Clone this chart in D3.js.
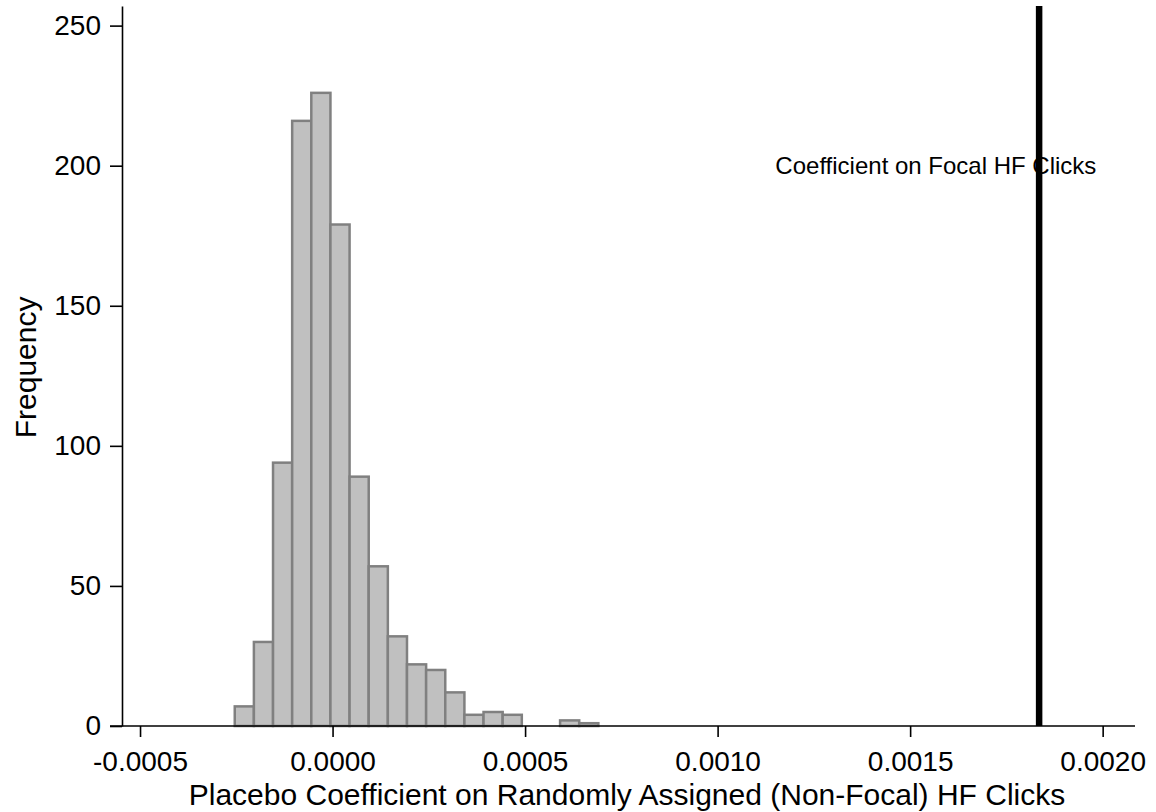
<!DOCTYPE html>
<html>
<head>
<meta charset="utf-8">
<script src="https://cdn.jsdelivr.net/npm/d3@7"></script>
<style>
  body { margin: 0; background: #fff; }
  text { font-family: "Liberation Sans", Arial, sans-serif; fill: #000; }
</style>
</head>
<body>
<div id="chart"></div>
<script>
// Histogram data (1000 placebo draws)
const binStart = -0.000254;
const binWidth = 0.0000497;
const counts = [7, 30, 94, 216, 226, 179, 89, 57, 32, 22, 20, 12, 4, 5, 4, 0, 0, 2, 1];
const xTicks = [-0.0005, 0.0000, 0.0005, 0.0010, 0.0015, 0.0020];
const yTicks = [0, 50, 100, 150, 200, 250];
const focalCoef = 0.001835;
const focalLabel = "Coefficient on Focal HF Clicks";

const width = 1156, height = 812;

const bins = counts.map((c, i) => ({
    x0: binStart + i * binWidth,
    x1: binStart + (i + 1) * binWidth,
    count: c
}));

const svg = d3.select("#chart")
    .append("svg")
    .attr("width", width)
    .attr("height", height);

// Scales
const x = d3.scaleLinear()
    .domain([-0.000578, 0.002084])
    .range([110, 1135]);

const y = d3.scaleLinear()
    .domain([0, 257])
    .range([726, 6]);

// Bars
svg.selectAll(".bar")
    .data(bins.filter(d => d.count > 0))
    .enter()
    .append("rect")
    .attr("class", "bar")
    .attr("x", d => x(d.x0))
    .attr("y", d => y(d.count))
    .attr("width", d => x(d.x1) - x(d.x0))
    .attr("height", d => y(0) - y(d.count))
    .style("fill", "#c0c0c0")
    .style("stroke", "#808080")
    .style("stroke-width", 2.5);

// Annotation text sits under the line
svg.append("text")
    .attr("x", x(0.00115))
    .attr("y", y(200))
    .attr("dy", "0.35em")
    .style("font-size", "24px")
    .text(focalLabel);

// Focal coefficient line
svg.append("line")
    .attr("x1", x(focalCoef))
    .attr("x2", x(focalCoef))
    .attr("y1", y(0))
    .attr("y2", y(257))
    .style("stroke", "#000")
    .style("stroke-width", 6.5);

// Axes
const xAxis = svg.append("g")
    .attr("transform", `translate(0, ${y(0)})`)
    .call(d3.axisBottom(x)
        .tickValues(xTicks)
        .tickSize(11)
        .tickSizeOuter(0)
        .tickPadding(14)
        .tickFormat(d3.format(".4f")));

const yAxis = svg.append("g")
    .attr("transform", `translate(${x.range()[0] + 12}, 0)`)
    .call(d3.axisLeft(y)
        .tickValues(yTicks)
        .tickSize(12)
        .tickSizeOuter(0)
        .tickPadding(9));

[xAxis, yAxis].forEach(g => {
    g.selectAll("path, line").style("stroke", "#000").style("stroke-width", 1.6);
    g.selectAll("text").style("font-size", "28px").attr("font-family", null);
});
xAxis.select(".domain").attr("d", `M${x.range()[0]},0H${x.range()[1]}`);
xAxis.selectAll(".tick text").text(d => d3.format(".4f")(d).replace("−", "-"));

// Axis titles
svg.append("text")
    .attr("x", 627)
    .attr("y", 805)
    .attr("text-anchor", "middle")
    .style("font-size", "30px")
    .text("Placebo Coefficient on Randomly Assigned (Non-Focal) HF Clicks");

svg.append("text")
    .attr("transform", `translate(36, ${y(128)}) rotate(-90)`)
    .attr("text-anchor", "middle")
    .style("font-size", "30px")
    .text("Frequency");
</script>
</body>
</html>
